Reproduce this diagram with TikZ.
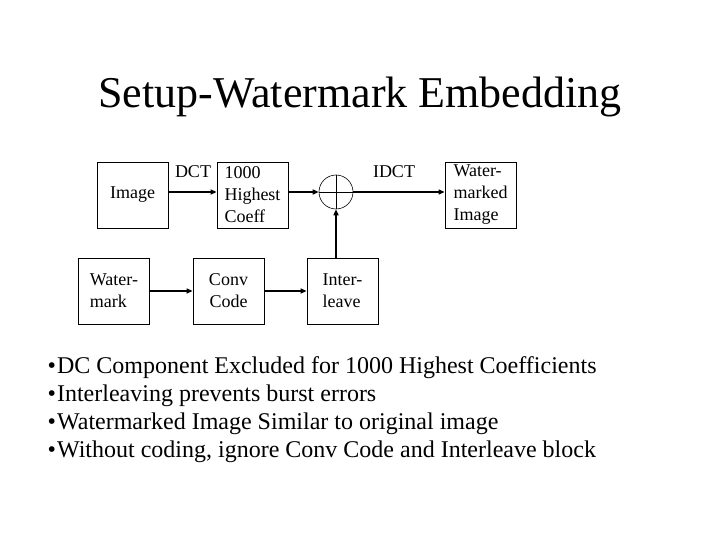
\documentclass[tikz,border=0pt]{standalone}
\usepackage{fontspec}
\setmainfont{Liberation Serif}
\usetikzlibrary{arrows.meta}
\tikzset{block/.style={draw=black, line width=0.8pt, minimum width=71pt,
      minimum height=66pt, inner sep=2pt, align=left,
      font=\fontsize{18}{22}\selectfont},
    flow/.style={line width=1.8pt, -{Triangle[length=6pt,width=5pt]}},
    label/.style={font=\fontsize{18}{22}\selectfont, inner sep=0pt},
    note/.style={anchor=base west, inner sep=0pt,
      font=\fontsize{24}{28}\selectfont}}

\begin{document}
\begin{tikzpicture}[x=1pt,y=-1pt]
    \useasboundingbox (0,0) rectangle (720,540);
    \node[anchor=base, font=\fontsize{44}{50}\selectfont] (title) at (360,108)
      {Setup-Watermark Embedding};
    % top row
    \node[block] (img) at (132.5,195) {Image};
    \node[block] (coeff) at (252.5,195) {1000\\Highest\\Coeff};
    \node[draw=black, line width=0.6pt, circle, minimum size=34pt,
      inner sep=0pt] (sum) at (336,192) {};
    \draw[line width=0.6pt] (sum.north) -- (sum.south)
      (sum.west) -- (sum.east);
    \node[block] (wmimg) at (480.5,195) {Water-\\marked\\Image};
    % bottom row
    \node[block] (wmark) at (114,291) {Water-\\mark};
    \node[block, align=center] (conv) at (228.5,291) {Conv\\Code};
    \node[block] (inter) at (342.5,291) {Inter-\\leave};
    % connectors
    \draw[flow] (img.east |- sum) -- (coeff.west |- sum);
    \draw[flow] (coeff.east |- sum) -- (sum.west);
    \draw[flow] (sum.east) -- (wmimg.west |- sum);
    \draw[flow] (wmark) -- (conv);
    \draw[flow] (conv) -- (inter);
    \draw[flow] (sum.south |- inter.north) -- (sum.south);
    \node[label] (dct) at (193,172) {DCT};
    \node[label] (idct) at (394,172) {IDCT};
    % notes
    \node[note] (note1) at (47.5,373)
      {•\hspace{1pt}DC Component Excluded for 1000 Highest Coefficients};
    \node[note] (note2) at (47.5,401)
      {•\hspace{1pt}Interleaving prevents burst errors};
    \node[note] (note3) at (47.5,429)
      {•\hspace{1pt}Watermarked Image Similar to original image};
    \node[note] (note4) at (47.5,457)
      {•\hspace{1pt}Without coding, ignore Conv Code and Interleave block};
\end{tikzpicture}
\end{document}
